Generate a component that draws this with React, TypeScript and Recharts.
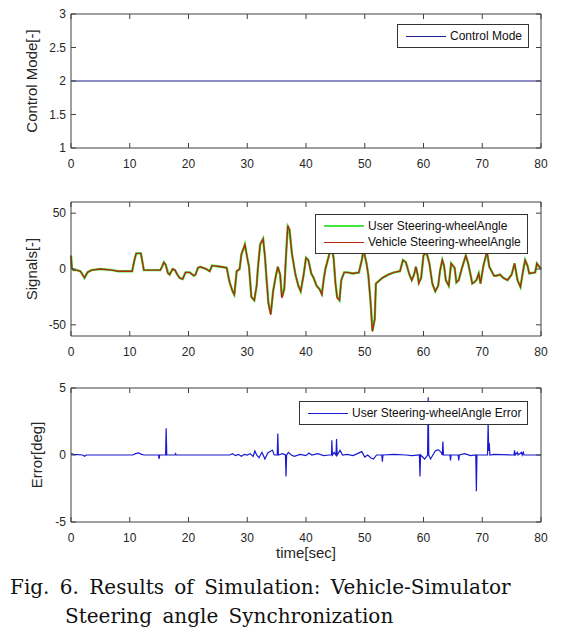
import React from "react";
import { LineChart, Line, XAxis, YAxis } from "recharts";

type Pt = [number, number];

const W = 566;
const H = 638;
const LEFT = 71;
const RIGHT = 541;
const AXIS = "#404040";
const TXT = "#262626";
const FONT = "'Liberation Sans', Arial, sans-serif";

const timeTicks = [0, 10, 20, 30, 40, 50, 60, 70, 80];
const modeTicks = [1, 1.5, 2, 2.5, 3];
const signalTicks = [-50, 0, 50];
const errorTicks = [-5, 0, 5];

const controlMode: Pt[] = [[0, 2], [80, 2]];

const userAngle: Pt[] = [
  [0, 12], [0.15, 1], [0.4, -1], [1, -1], [1.6, -2], [2.3, -8], [2.8, -3], [3.5, -1], [5, 0], [7, -1],
  [8, -2], [10.4, -2], [10.8, 8], [11.1, 14], [11.9, 14], [12.4, -1], [14, -1], [15.2, -1], [15.5, 2], [15.8, 6],
  [16.1, 4], [16.5, -3], [16.8, -5], [17.3, 0], [17.7, -1], [18.1, -5], [18.5, -8], [19, -9], [19.5, -3], [20.2, -3],
  [20.9, -6], [21.2, -5], [21.6, 1], [22, 2], [23, 0], [23.6, -2], [24, 3], [25.5, 2], [26.5, 1], [27, -12],
  [27.5, -20], [27.8, -23], [28.2, -2], [28.7, 0], [29, 13], [29.6, 22], [30, 10], [30.3, 2], [30.7, -25], [31.2, -28],
  [31.6, -15], [31.8, 0], [32.2, 22], [32.7, 27], [33, 12], [33.3, -10], [33.6, -30], [34, -40], [34.4, -20], [34.8, -8],
  [35.2, 2], [35.6, -5], [35.9, -25], [36.3, -18], [36.6, 12], [36.9, 38], [37.2, 35], [37.6, 14], [38.2, -5], [38.7, -15],
  [39.1, -20], [39.6, -5], [40, 10], [40.4, 8], [40.9, -4], [41.3, -8], [41.8, -15], [42.3, -18], [42.7, -22], [43, -10],
  [43.3, 0], [43.8, 10], [44.2, 18], [44.5, 15], [44.7, 10], [45, -12], [45.3, -25], [45.7, -28], [46, -10], [46.5, -3],
  [47, -3], [48, -4], [49, -3], [49.5, 8], [49.8, 18], [50, 12], [50.3, 5], [50.6, -5], [51, -30], [51.3, -55],
  [51.7, -45], [51.9, -13], [53, -8], [54, -5], [55, -3], [56, -2], [56.5, 8], [57, 6], [57.6, -5], [58, -10],
  [58.4, -5], [58.7, 2], [59, -5], [59.2, -12], [59.6, -8], [60, 12], [60.5, 15], [61, 5], [61.5, -13], [62, -20],
  [62.5, -15], [62.8, -2], [63.2, 8], [63.5, 3], [63.8, -10], [64.3, -15], [64.7, 5], [65.3, 1], [65.6, -12], [66, -10],
  [66.5, 0], [67.2, 12], [67.6, 5], [68, -5], [68.3, -13], [68.6, -12], [69, -10], [69.4, -4], [69.7, -13], [70.2, 3],
  [70.8, 15], [71.2, 2], [71.6, -2], [72, -6], [72.4, -6], [73, -5], [73.6, -8], [74.3, -10], [75, -5], [75.5, 5],
  [76, -10], [76.5, -16], [77, 0], [77.3, 8], [77.7, 3], [78, -4], [79, -3], [79.3, 5], [79.7, 2], [80, 0],
];

const vehicleAngle: Pt[] = [
  [0, 12], [0.15, 1], [0.4, -1], [1, -1], [1.6, -2], [2.3, -8], [2.8, -3], [3.5, -1], [5, 0], [7, -1],
  [8, -2], [10.4, -2], [10.8, 8], [11.1, 14], [11.9, 14], [12.4, -1], [14, -1], [15.2, -1], [15.5, 2], [15.8, 6],
  [16.1, 4], [16.5, -4], [16.8, -5], [17.3, 0], [17.7, -1], [18.1, -5], [18.5, -8], [19, -9], [19.5, -3], [20.2, -3],
  [20.9, -6], [21.2, -5], [21.6, 1], [22, 2], [23, 0], [23.6, -2], [24, 3], [25.5, 2], [26.5, 1], [27, -12],
  [27.5, -20], [27.8, -23], [28.2, -2], [28.7, 0], [29, 13], [29.6, 22], [30, 10], [30.3, 2], [30.7, -25], [31.2, -28],
  [31.6, -15], [31.8, 0], [32.2, 22], [32.7, 27], [33, 12], [33.3, -10], [33.6, -31], [34, -41], [34.4, -20], [34.8, -8],
  [35.2, 2], [35.6, -5], [35.9, -26], [36.3, -18], [36.6, 12], [36.9, 39], [37.2, 35], [37.6, 14], [38.2, -5], [38.7, -15],
  [39.1, -20], [39.6, -5], [40, 10], [40.4, 8], [40.9, -4], [41.3, -8], [41.8, -15], [42.3, -18], [42.7, -23], [43, -10],
  [43.3, 0], [43.8, 10], [44.2, 18], [44.5, 15], [44.7, 10], [45, -12], [45.3, -26], [45.7, -28], [46, -10], [46.5, -3],
  [47, -3], [48, -4], [49, -3], [49.5, 8], [49.8, 18], [50, 12], [50.3, 5], [50.6, -5], [51, -30], [51.3, -56],
  [51.7, -45], [51.9, -13], [53, -8], [54, -5], [55, -3], [56, -2], [56.5, 8], [57, 6], [57.6, -5], [58, -10],
  [58.4, -5], [58.7, 2], [59, -5], [59.2, -13], [59.6, -8], [60, 12], [60.5, 15], [61, 5], [61.5, -13], [62, -20],
  [62.5, -15], [62.8, -2], [63.2, 8], [63.5, 3], [63.8, -10], [64.3, -15], [64.7, 5], [65.3, 1], [65.6, -12], [66, -10],
  [66.5, 0], [67.2, 12], [67.6, 5], [68, -5], [68.3, -13], [68.6, -12], [69, -10], [69.4, -4], [69.7, -13], [70.2, 3],
  [70.8, 16], [71.2, 2], [71.6, -2], [72, -6], [72.4, -6], [73, -5], [73.6, -8], [74.3, -10], [75, -5], [75.5, 5],
  [76, -10], [76.5, -16], [77, 0], [77.3, 8], [77.7, 3], [78, -4], [79, -3], [79.3, 5], [79.7, 2], [80, 0],
];

const angleError: Pt[] = [
  [0, 0.1], [0.5, 0.05], [2, 0], [2.3, -0.1], [2.6, 0], [10.5, 0], [11, 0.1], [11.5, 0.15], [12, 0.05], [12.5, 0],
  [14.9, 0], [15, -0.3], [15.1, 0], [16.1, 0], [16.2, 2.0], [16.3, 0], [17.7, 0], [17.8, 0.1], [17.9, 0], [27, 0],
  [27.5, 0.1], [28, -0.05], [28.5, 0.05], [29, -0.1], [29.5, 0.05], [30, 0], [30.5, 0.1], [31, -0.1], [31.3, 0.3], [31.6, 0],
  [32, -0.2], [32.5, 0.2], [32.8, -0.1], [33, -0.3], [33.5, 0.15], [34, 0.3], [34.3, 0.35], [34.6, 0], [35.1, 0], [35.2, 1.6],
  [35.3, 0], [36, 0.1], [36.5, 0], [36.6, -1.6], [36.7, 0], [37, 0.2], [37.5, 0], [38, -0.1], [39, 0.05], [40, -0.05],
  [40.5, 0.15], [41, 0], [42, 0.1], [43, -0.05], [44, 0], [44.35, 0], [44.4, 1.1], [44.5, 0], [44.8, 0.2], [45.1, 0],
  [45.2, 1.2], [45.3, 0], [45.8, 0.35], [46.2, 0], [47, 0.05], [48, -0.05], [49.5, 0.25], [50, -0.15], [50.5, 0], [51, -0.2],
  [51.5, -0.3], [52, 0], [52.9, 0], [53, -0.5], [53.1, 0], [55, 0.05], [57, 0], [58, -0.05], [59.3, 0], [59.4, -1.6],
  [59.5, 0], [60.2, -0.3], [60.7, 0], [60.8, 4.3], [60.9, 0], [61.2, -0.3], [61.6, 0], [62, 0.3], [62.5, 0.4], [63, 0.2],
  [63.2, 0], [63.3, 1.0], [63.4, 0], [64.5, 0], [64.6, -0.4], [64.7, 0], [65.9, 0], [66, -0.4], [66.1, 0], [67, 0.1],
  [68, -0.05], [68.9, 0], [69, -2.7], [69.1, 0], [70.9, 0], [71, 2.4], [71.1, 0.3], [71.2, 0.9], [71.3, 0], [72, 0.05],
  [75.4, 0], [75.5, 0.35], [75.6, 0], [76, 0.2], [76.1, 0], [76.7, 0.2], [76.8, 0], [77, 0.2], [77.1, 0], [80, 0],
];

const rows = (pts: Pt[]) => pts.map(([t, v]) => ({ t, v }));

interface SeriesDef {
  name: string;
  data: Pt[];
  color: string;
  width: number;
}

interface PanelProps {
  top: number;
  bottom: number;
  domain: [number, number];
  yTicks: number[];
  series: SeriesDef[];
}

const X_H = 30;
const Y_W = 40;

function Panel({ top, bottom, domain, yTicks, series }: PanelProps) {
  // MATLAB-style box: ticks point inward on both sides, labels outside
  const XTick = (props: any) => {
    const { x, payload } = props;
    return (
      <g>
        <line x1={x} x2={x} y1={bottom} y2={bottom - 5} stroke={AXIS} />
        <line x1={x} x2={x} y1={top} y2={top + 5} stroke={AXIS} />
        <text x={x} y={bottom + 20} textAnchor="middle" fontSize={12} fill={TXT} fontFamily={FONT}>
          {payload.value}
        </text>
      </g>
    );
  };
  const YTick = (props: any) => {
    const { y, payload } = props;
    return (
      <g>
        <line x1={LEFT} x2={LEFT + 5} y1={y} y2={y} stroke={AXIS} />
        <line x1={RIGHT} x2={RIGHT - 5} y1={y} y2={y} stroke={AXIS} />
        <text x={LEFT - 5} y={y + 4} textAnchor="end" fontSize={12} fill={TXT} fontFamily={FONT}>
          {payload.value}
        </text>
      </g>
    );
  };
  return (
    <div style={{ position: "absolute", left: 0, top: 0 }}>
      <LineChart
        width={W}
        height={H}
        margin={{ top: top - 1, bottom: H - bottom - X_H, left: LEFT - Y_W, right: W - RIGHT - 1 }}
      >
        <XAxis
          xAxisId="b"
          dataKey="t"
          type="number"
          domain={[0, 80]}
          ticks={timeTicks}
          height={X_H}
          stroke={AXIS}
          tickLine={false}
          tick={XTick}
          interval={0}
        />
        <XAxis
          xAxisId="top"
          orientation="top"
          dataKey="t"
          type="number"
          domain={[0, 80]}
          height={1}
          stroke={AXIS}
          tick={false}
          tickLine={false}
        />
        <YAxis
          yAxisId="l"
          type="number"
          domain={domain}
          ticks={yTicks}
          width={Y_W}
          stroke={AXIS}
          tickLine={false}
          tick={YTick}
          interval={0}
          allowDataOverflow
        />
        <YAxis
          yAxisId="r"
          orientation="right"
          type="number"
          domain={domain}
          width={1}
          stroke={AXIS}
          tick={false}
          tickLine={false}
        />
        {series.map((s) => (
          <Line
            key={s.name}
            xAxisId="b"
            yAxisId="l"
            data={rows(s.data)}
            dataKey="v"
            type="linear"
            stroke={s.color}
            strokeWidth={s.width}
            dot={false}
            isAnimationActive={false}
          />
        ))}
      </LineChart>
    </div>
  );
}

function LegendBox({ left, top, items }: { left: number; top: number; items: SeriesDef[] }) {
  return (
    <div
      style={{
        position: "absolute",
        left,
        top,
        background: "#fff",
        border: "1px solid #333",
        padding: "3px 6px 3px 8px",
        fontFamily: FONT,
        fontSize: 12,
        color: "#111",
        lineHeight: "16px",
      }}
    >
      {items.map((s) => (
        <div key={s.name} style={{ display: "flex", alignItems: "center", whiteSpace: "nowrap" }}>
          <div style={{ width: 40, height: Math.max(1, s.width - 0.5), background: s.color, marginRight: 4 }} />
          <span>{s.name}</span>
        </div>
      ))}
    </div>
  );
}

const modeSeries: SeriesDef[] = [{ name: "Control Mode", data: controlMode, color: "#1c1c8a", width: 1 }];
const angleSeries: SeriesDef[] = [
  { name: "User Steering-wheelAngle", data: userAngle, color: "#3ee83e", width: 2.4 },
  { name: "Vehicle Steering-wheelAngle", data: vehicleAngle, color: "#b02a0e", width: 1.4 },
];
const errorSeries: SeriesDef[] = [{ name: "User Steering-wheelAngle Error", data: angleError, color: "#1a1ad0", width: 1.2 }];

function YTitle({ x, y, text }: { x: number; y: number; text: string }) {
  return (
    <text
      x={x}
      y={y}
      transform={`rotate(-90 ${x} ${y})`}
      textAnchor="middle"
      fontSize={15}
      fill={TXT}
      fontFamily={FONT}
    >
      {text}
    </text>
  );
}

export default function App() {
  return (
    <div style={{ position: "absolute", left: 0, top: 0, width: W, height: H, background: "#fff" }}>
      <Panel top={14} bottom={148} domain={[1, 3]} yTicks={modeTicks} series={modeSeries} />
      <Panel top={202} bottom={336} domain={[-60, 60]} yTicks={signalTicks} series={angleSeries} />
      <Panel top={388} bottom={522} domain={[-5, 5]} yTicks={errorTicks} series={errorSeries} />
      <svg width={W} height={H} style={{ position: "absolute", left: 0, top: 0, pointerEvents: "none" }}>
        <YTitle x={37} y={81} text="Control Mode[-]" />
        <YTitle x={37} y={269} text="Signals[-]" />
        <YTitle x={42} y={455} text="Error[deg]" />
        <text x={306} y={558} textAnchor="middle" fontSize={15} fill={TXT} fontFamily={FONT}>
          time[sec]
        </text>
      </svg>
      <LegendBox left={397} top={24} items={modeSeries} />
      <LegendBox left={315} top={214} items={angleSeries} />
      <LegendBox left={299} top={401} items={errorSeries} />
      <div
        style={{
          position: "absolute",
          left: 10,
          top: 573,
          fontFamily: "'DejaVu Serif', serif",
          fontSize: 20,
          lineHeight: "29px",
          color: "#111",
          wordSpacing: 4,
          whiteSpace: "nowrap",
        }}
      >
        <div>Fig. 6. Results of Simulation: Vehicle-Simulator</div>
        <div style={{ paddingLeft: 55 }}>Steering angle Synchronization</div>
      </div>
    </div>
  );
}
